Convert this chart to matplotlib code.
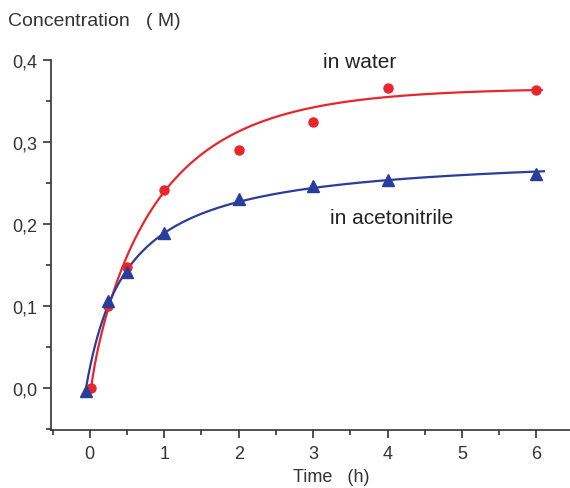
import numpy as np
import matplotlib
matplotlib.use("Agg")
import matplotlib.pyplot as plt
from matplotlib.ticker import MultipleLocator, FuncFormatter

# Data
t_water = [0.02, 0.25, 0.5, 1, 2, 3, 4, 6]
c_water = [0.0, 0.100, 0.148, 0.242, 0.290, 0.325, 0.366, 0.364]
t_acn = [-0.05, 0.25, 0.5, 1, 2, 3, 4, 6]
c_acn = [-0.003, 0.106, 0.141, 0.189, 0.231, 0.247, 0.254, 0.261]

# Fitted-curve parameters
water_A, water_k, water_p, water_t0 = 0.366, 1.08, 0.85, 0.02   # A*(1-exp(-k(t-t0)^p))
acn_A, acn_K, acn_t0 = 0.288, 0.55, -0.05                        # A*(t-t0)/(K+t-t0)
water_tend = 6.07
acn_tend = 6.1

red = "#e8262b"
blue = "#2a3c9c"

plt.rcParams['font.family'] = ['Liberation Sans', 'DejaVu Sans']

fig = plt.figure(figsize=(5.7, 4.89), dpi=100)
ax = fig.add_axes([0.0895, 0.1186, 0.9105, 0.7567])

tw = np.linspace(water_t0, water_tend, 400)
ax.plot(tw, water_A * (1 - np.exp(-water_k * (tw - water_t0) ** water_p)), color=red, lw=1.6, zorder=2)
ta = np.linspace(acn_t0, acn_tend, 400)
ax.plot(ta, acn_A * (ta - acn_t0) / (acn_K + ta - acn_t0), color=blue, lw=1.6, zorder=2)

ax.plot(t_water, c_water, 'o', color=red, ms=6.5, zorder=3, clip_on=False)
ax.plot(t_acn, c_acn, '^', color=blue, ms=8, zorder=3, clip_on=False)

ax.set_xlim(-0.52, 6.45)
ax.set_ylim(-0.051, 0.4)
ax.spines['top'].set_visible(False)
ax.spines['right'].set_visible(False)
for s in ['left', 'bottom']:
    ax.spines[s].set_linewidth(1.2)
    ax.spines[s].set_color('#333333')

ax.xaxis.set_major_locator(MultipleLocator(1))
ax.xaxis.set_minor_locator(MultipleLocator(0.5))
ax.yaxis.set_major_locator(MultipleLocator(0.1))
ax.yaxis.set_minor_locator(MultipleLocator(0.05))
ax.yaxis.set_major_formatter(FuncFormatter(lambda v, p: f"{v:.1f}".replace('.', ',')))
ax.tick_params(which='major', length=6, width=1.2, color='#333333', labelsize=13, labelcolor='#333333')
ax.tick_params(which='minor', length=3.5, width=1.2, color='#333333')
ax.tick_params(axis='x', pad=5)
ax.tick_params(axis='y', pad=4)

fig.text(8/570, 1 - 22/489, "Concentration   ( M)", fontsize=14, color='#333333', va='center', ha='left')
fig.text(293/570, 1 - 478/489, "Time   (h)", fontsize=13, color='#333333', va='center', ha='left')
ax.text(3.63, 0.398, "in water", fontsize=15, color='#222222', ha='center', va='center')
ax.text(4.05, 0.208, "in acetonitrile", fontsize=15, color='#222222', ha='center', va='center')

fig.savefig("out.png", dpi=100)
